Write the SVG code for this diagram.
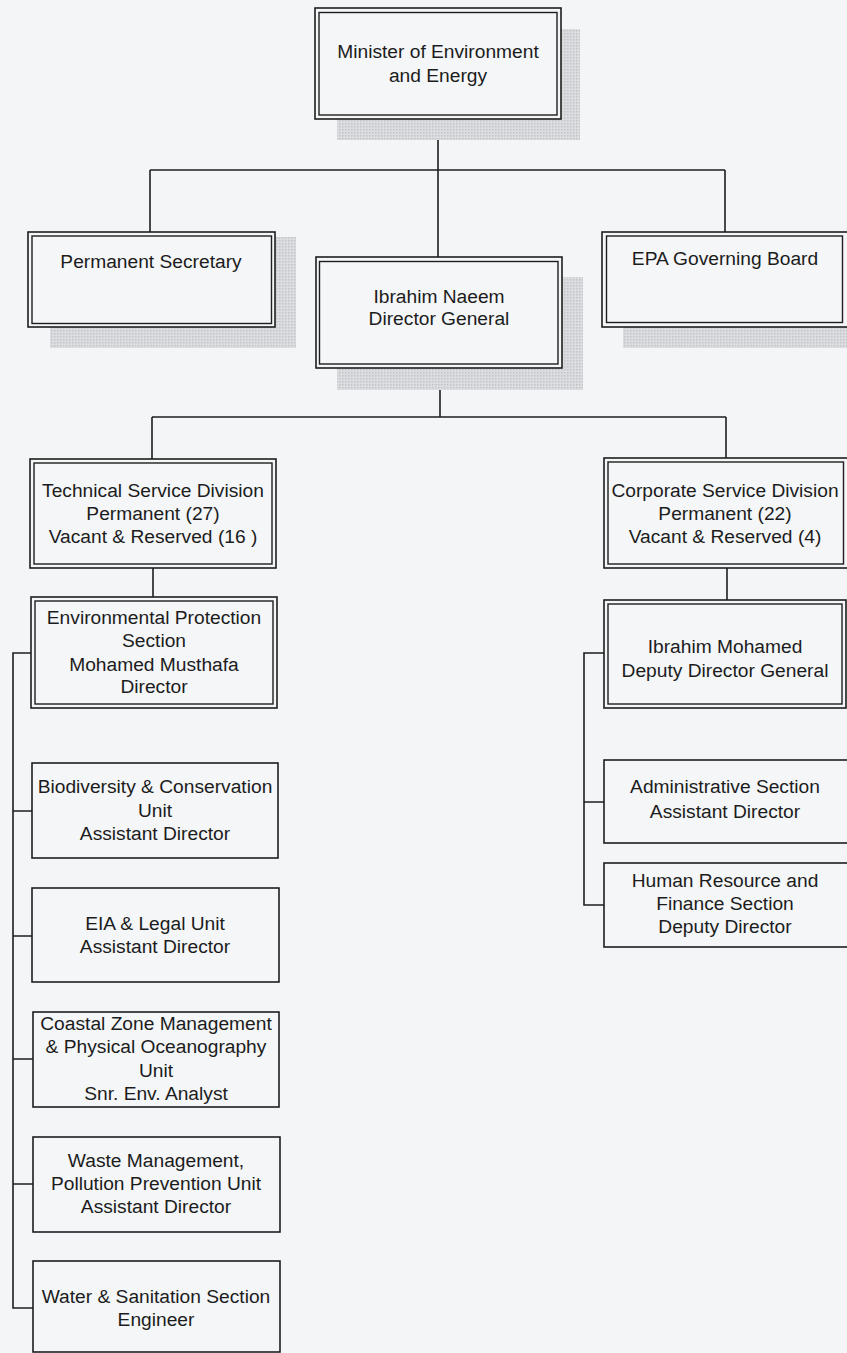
<svg xmlns="http://www.w3.org/2000/svg" width="847" height="1353" viewBox="0 0 847 1353">
  <defs>
    <pattern id="halftone" width="3" height="3" patternUnits="userSpaceOnUse">
      <rect width="3" height="3" fill="#dcdde1"/>
      <rect width="1.5" height="1.5" fill="#c3c4c8"/>
    </pattern>
  </defs>
  <style>
    .bg { fill: #f3f5f7; }
    .shadow { fill: url(#halftone); }
    .box { fill: #f4f6f8; stroke: #1e1e1e; stroke-width: 1.6; }
    .inner { fill: none; stroke: #1e1e1e; stroke-width: 1.4; }
    .wire { fill: none; stroke: #1e1e1e; stroke-width: 1.6; }
    text { font-family: "Liberation Sans", Arial, sans-serif; font-size: 19.2px; fill: #1c1c1c; text-anchor: middle; }
  </style>

  <rect class="bg" x="0" y="0" width="847" height="1353"/>

  <!-- connectors -->
  <g id="connectors">
    <path class="wire" d="M438 119 V170 M150 170 H725 M150 170 V232 M725 170 V232 M438 170 V257"/>
    <path class="wire" d="M440 368 V417 M152 417 H726 M152 417 V459 M726 417 V458"/>
    <path class="wire" d="M153 568 V597 M727 568 V600"/>
    <path class="wire" d="M31 653 H13 V1308 H33 M13 811 H32 M13 936 H32 M13 1059 H33 M13 1184 H33"/>
    <path class="wire" d="M604 653 H584 V905 H604 M584 802 H604"/>
  </g>

  <!-- Minister -->
  <g id="minister">
    <rect class="shadow" x="337" y="29" width="243" height="111"/>
    <rect class="box" x="315" y="8" width="246" height="111"/>
    <rect class="inner" x="319" y="12.5" width="238" height="102.5"/>
    <text x="438" y="58">Minister of Environment</text>
    <text x="438" y="82">and Energy</text>
  </g>

  <!-- Permanent Secretary -->
  <g id="permanent-secretary">
    <rect class="shadow" x="50" y="237" width="246" height="111"/>
    <rect class="box" x="28" y="232" width="247" height="95"/>
    <rect class="inner" x="32" y="236" width="239.5" height="87.5"/>
    <text x="151" y="268">Permanent Secretary</text>
  </g>

  <!-- EPA Governing Board -->
  <g id="epa-board">
    <rect class="shadow" x="623" y="252" width="240" height="96"/>
    <rect class="box" x="602" y="232" width="260" height="95"/>
    <rect class="inner" x="606.5" y="236" width="236" height="86.5"/>
    <text x="725" y="265">EPA Governing Board</text>
  </g>

  <!-- Director General -->
  <g id="director-general">
    <rect class="shadow" x="337" y="277" width="246" height="113"/>
    <rect class="box" x="316" y="257" width="246" height="111"/>
    <rect class="inner" x="319.5" y="261.5" width="238.5" height="102.5"/>
    <text x="439" y="303">Ibrahim Naeem</text>
    <text x="439" y="325">Director General</text>
  </g>

  <!-- Technical Service Division -->
  <g id="technical-division">
    <rect class="box" x="30" y="459" width="246" height="109"/>
    <rect class="inner" x="34" y="463" width="238" height="101"/>
    <text x="153" y="497">Technical Service Division</text>
    <text x="153" y="520">Permanent (27)</text>
    <text x="153" y="543">Vacant &amp; Reserved (16 )</text>
  </g>

  <!-- Corporate Service Division -->
  <g id="corporate-division">
    <rect class="box" x="604" y="458" width="260" height="110"/>
    <rect class="inner" x="608" y="462" width="235.5" height="102"/>
    <text x="725" y="497">Corporate Service Division</text>
    <text x="725" y="520">Permanent (22)</text>
    <text x="725" y="543">Vacant &amp; Reserved (4)</text>
  </g>

  <!-- Environmental Protection Section -->
  <g id="env-protection">
    <rect class="box" x="31" y="597" width="246" height="111"/>
    <rect class="inner" x="35" y="601" width="238" height="103"/>
    <text x="154" y="624">Environmental Protection</text>
    <text x="154" y="647">Section</text>
    <text x="154" y="671">Mohamed Musthafa</text>
    <text x="154" y="693">Director</text>
  </g>

  <!-- Deputy Director General -->
  <g id="deputy-director">
    <rect class="box" x="604" y="600" width="242" height="108"/>
    <rect class="inner" x="608" y="604" width="234" height="100"/>
    <text x="725" y="653">Ibrahim Mohamed</text>
    <text x="725" y="677">Deputy Director General</text>
  </g>

  <!-- Technical units -->
  <g id="biodiversity">
    <rect class="box" x="32" y="763" width="246" height="95"/>
    <text x="155" y="793">Biodiversity &amp; Conservation</text>
    <text x="155" y="817">Unit</text>
    <text x="155" y="840">Assistant Director</text>
  </g>

  <g id="eia-legal">
    <rect class="box" x="32" y="888" width="247" height="94"/>
    <text x="155" y="930">EIA &amp; Legal Unit</text>
    <text x="155" y="953">Assistant Director</text>
  </g>

  <g id="coastal-zone">
    <rect class="box" x="33" y="1012" width="246" height="95"/>
    <text x="156" y="1030">Coastal Zone Management</text>
    <text x="156" y="1053">&amp; Physical Oceanography</text>
    <text x="156" y="1077">Unit</text>
    <text x="156" y="1100">Snr. Env. Analyst</text>
  </g>

  <g id="waste-management">
    <rect class="box" x="33" y="1137" width="247" height="95"/>
    <text x="156" y="1167">Waste Management,</text>
    <text x="156" y="1190">Pollution Prevention Unit</text>
    <text x="156" y="1213">Assistant Director</text>
  </g>

  <g id="water-sanitation">
    <rect class="box" x="33" y="1261" width="247" height="91"/>
    <text x="156" y="1303">Water &amp; Sanitation Section</text>
    <text x="156" y="1326">Engineer</text>
  </g>

  <!-- Corporate sections -->
  <g id="administrative">
    <rect class="box" x="604" y="760" width="260" height="83"/>
    <text x="725" y="793">Administrative Section</text>
    <text x="725" y="818">Assistant Director</text>
  </g>

  <g id="hr-finance">
    <rect class="box" x="604" y="863" width="260" height="84"/>
    <text x="725" y="887">Human Resource and</text>
    <text x="725" y="910">Finance Section</text>
    <text x="725" y="933">Deputy Director</text>
  </g>
</svg>
